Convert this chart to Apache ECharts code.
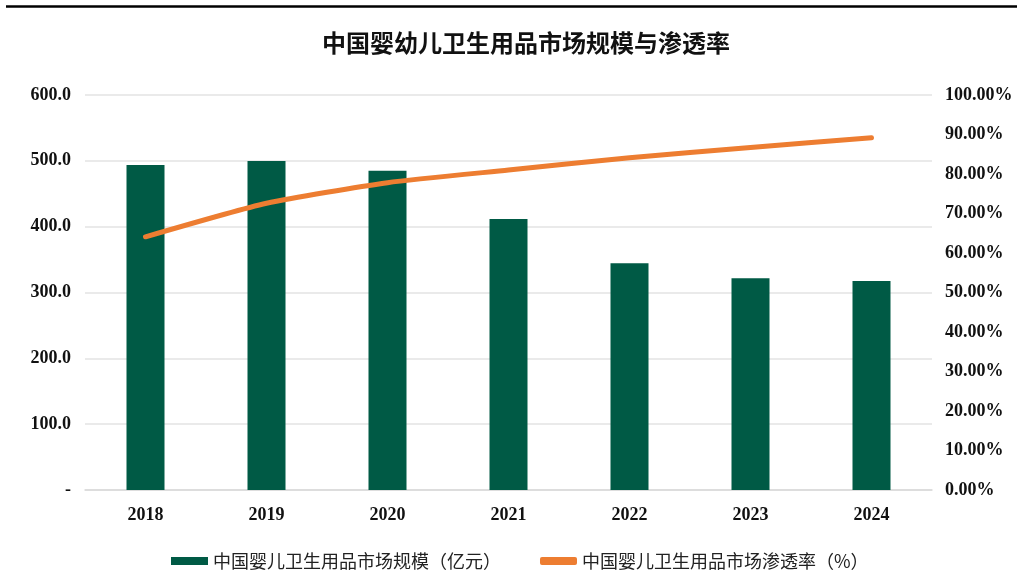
<!DOCTYPE html>
<html>
<head>
<meta charset="utf-8">
<style>
  html, body { margin: 0; padding: 0; background: #fff; }
  #chart { width: 1017px; height: 583px; }
</style>
<script src="https://cdn.jsdelivr.net/npm/echarts@6/dist/echarts.min.js"></script>
</head>
<body>
<div id="chart"></div>
<script>
const years = ['2018', '2019', '2020', '2021', '2022', '2023', '2024']
const marketSize = [493.7, 499.8, 485.0, 411.7, 344.4, 321.6, 317.5]
const penetration = [64.1, 72.6, 77.8, 81.0, 84.1, 86.7, 89.2]
const sizeName = '中国婴儿卫生用品市场规模（亿元）'
const rateName = '中国婴儿卫生用品市场渗透率（%）'

const axisFont = {
  fontFamily: '"Liberation Serif", "Times New Roman", serif',
  fontWeight: 'bold',
  fontSize: 18,
  color: '#111'
}

const chart = echarts.init(document.getElementById('chart'))
chart.setOption({
  animation: false,
  title: {
    text: '中国婴幼儿卫生用品市场规模与渗透率',
    left: 317,
    top: 26,
    textStyle: {
      fontFamily: '"Noto Sans CJK SC", sans-serif',
      fontWeight: 'bold',
      fontSize: 24,
      color: '#111'
    }
  },
  graphic: [
    {
      type: 'line',
      shape: { x1: 6, y1: 6.5, x2: 1017, y2: 6.5 },
      style: { stroke: '#000', lineWidth: 2.5 }
    }
  ],
  legend: {
    left: 166,
    top: 547,
    itemWidth: 37,
    itemHeight: 8,
    itemGap: 39,
    textStyle: {
      fontFamily: '"Noto Sans CJK SC", sans-serif',
      fontSize: 18,
      color: '#222'
    },
    data: [
      { name: sizeName, icon: 'rect' },
      { name: rateName, icon: 'roundRect', itemStyle: { color: '#ed7d31' } }
    ]
  },
  grid: { left: 85, right: 85, top: 95, bottom: 93 },
  xAxis: {
    type: 'category',
    data: years,
    axisTick: { show: false },
    axisLine: { lineStyle: { color: '#d9d9d9', width: 1.5 } },
    axisLabel: { ...axisFont, margin: 16 }
  },
  yAxis: [
    {
      type: 'value',
      min: 0,
      max: 600,
      interval: 100,
      axisLine: { show: false },
      axisTick: { show: false },
      splitLine: { lineStyle: { color: '#e3e3e3', width: 1.5 } },
      axisLabel: {
        ...axisFont,
        margin: 14,
        formatter: (v) => (v === 0 ? '-' : v.toFixed(1))
      }
    },
    {
      type: 'value',
      min: 0,
      max: 100,
      interval: 10,
      axisLine: { show: false },
      axisTick: { show: false },
      splitLine: { show: false },
      axisLabel: {
        ...axisFont,
        margin: 13,
        formatter: (v) => v.toFixed(2) + '%'
      }
    }
  ],
  series: [
    {
      name: sizeName,
      type: 'bar',
      data: marketSize,
      barWidth: 38,
      itemStyle: { color: '#005a45' }
    },
    {
      name: rateName,
      type: 'line',
      yAxisIndex: 1,
      data: penetration,
      symbol: 'none',
      smooth: 0.2,
      lineStyle: { color: '#ed7d31', width: 5, cap: 'round', join: 'round' },
      itemStyle: { color: '#ed7d31' }
    }
  ]
})
</script>
</body>
</html>
